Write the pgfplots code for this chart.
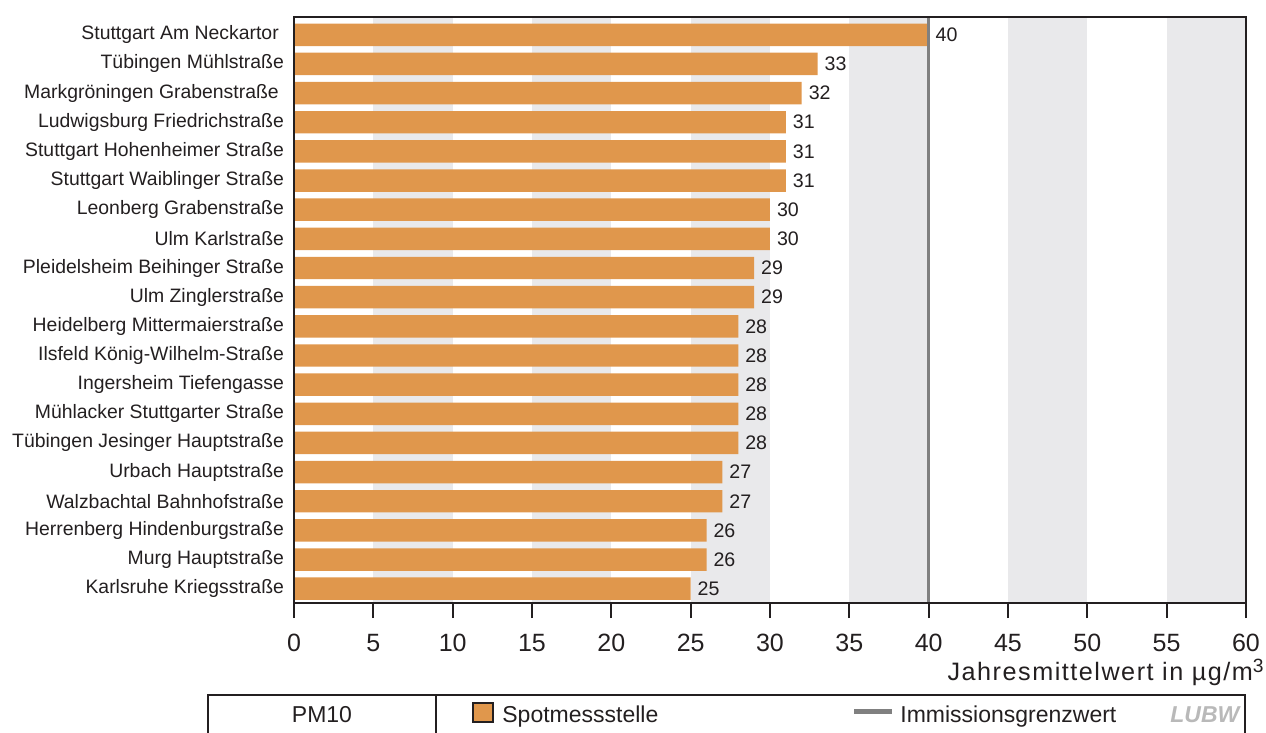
\documentclass[border=0pt]{standalone}
\usepackage{fontspec}
\setmainfont{Liberation Sans}
\usepackage{pgfplots}
\pgfplotsset{compat=1.18}
\definecolor{barorange}{HTML}{E0974C}
\definecolor{band}{HTML}{E9E9EB}
\definecolor{limitgrey}{HTML}{808080}
\definecolor{frame}{HTML}{231F20}
\definecolor{txt}{HTML}{231F20}
\begin{document}
\begin{tikzpicture}[x=1pt,y=1pt]
\useasboundingbox (0,0) rectangle (633,366.5);
\begin{axis}[
  at={(147pt,65pt)}, anchor=south west,
  scale only axis, width=476pt, height=293pt,
  xmin=0, xmax=60, ymin=-0.61, ymax=19.49,
  y dir=reverse,
  xtick={0,5,...,60},
  ytick={0,...,19},
  yticklabels={{Stuttgart Am Neckartor\kern2.6pt},{Tübingen Mühlstraße},{Markgröningen Grabenstraße\kern2.6pt},{Ludwigsburg Friedrichstraße},{Stuttgart Hohenheimer Straße},{Stuttgart Waiblinger Straße},{Leonberg Grabenstraße},{Ulm Karlstraße},{Pleidelsheim Beihinger Straße},{Ulm Zinglerstraße},{Heidelberg Mittermaierstraße},{Ilsfeld König-Wilhelm-Straße},{Ingersheim Tiefengasse},{Mühlacker Stuttgarter Straße},{Tübingen Jesinger Hauptstraße},{Urbach Hauptstraße},{Walzbachtal Bahnhofstraße},{Herrenberg Hindenburgstraße},{Murg Hauptstraße},{Karlsruhe Kriegsstraße}},
  xbar, bar width=0.77, bar shift=0pt,
  axis on top,
  axis line style={draw=frame, line width=1pt},
  xtick pos=bottom, tick align=outside,
  x tick style={draw=frame, line width=1pt},
  major tick length=7.5pt,
  y tick style={draw=none},
  /pgf/number format/assume math mode=true,
  x tick label style={font=\fontsize{12.5}{13}\selectfont, text=txt, inner sep=0pt, yshift=-8pt},
  y tick label style={font=\fontsize{9.7}{11}\selectfont, text=txt, xshift=6pt},
  nodes near coords,
  nodes near coords style={font=\fontsize{9.8}{11}\selectfont, text=txt, anchor=west},
  xlabel={{\addfontfeatures{LetterSpace=6}Jahresmittelwert in µg/m}\raisebox{3.8pt}{\fontsize{9.6}{10}\selectfont 3}},
  xlabel style={at={(rel axis cs:1,0)}, anchor=base east, yshift=-38.5pt, xshift=9pt, inner sep=0pt, font=\fontsize{12.6}{13}\selectfont, text=txt},
]
\fill[band] (axis cs:5,-0.61) rectangle (axis cs:10,19.49);
\fill[band] (axis cs:15,-0.61) rectangle (axis cs:20,19.49);
\fill[band] (axis cs:25,-0.61) rectangle (axis cs:30,19.49);
\fill[band] (axis cs:35,-0.61) rectangle (axis cs:40,19.49);
\fill[band] (axis cs:45,-0.61) rectangle (axis cs:50,19.49);
\fill[band] (axis cs:55,-0.61) rectangle (axis cs:60,19.49);
\addplot[fill=barorange, draw=none] coordinates {
(40,0) (33,1) (32,2) (31,3) (31,4) (31,5) (30,6) (30,7) (29,8) (29,9)
(28,10) (28,11) (28,12) (28,13) (28,14) (27,15) (27,16) (26,17) (26,18) (25,19)};
\draw[limitgrey, line width=1.5pt] (axis cs:40,-0.61) -- (axis cs:40,19.49);
\end{axis}
% legend table
\draw[frame, line width=0.7pt] (104,-5) rectangle (622.5,19);
\draw[frame, line width=0.7pt] (218,-5) -- (218,19);
\begin{scope}[every node/.style={font=\fontsize{11.5}{12}\selectfont, text=txt, inner sep=0pt}]
\node[anchor=base] at (161,5) {PM10};
\filldraw[fill=barorange, draw=frame, line width=0.6pt] (236.5,5.5) rectangle (246.5,15);
\node[anchor=base west] at (251,5) {Spotmessstelle};
\draw[limitgrey, line width=2.5pt] (427,10.5) -- (446,10.5);
\node[anchor=base west] at (450,5) {Immissionsgrenzwert};
\node[anchor=base west, text=gray!55, font=\fontsize{11.5}{12}\selectfont\bfseries\itshape] at (585,5) {LUBW};
\end{scope}
\end{tikzpicture}
\end{document}
